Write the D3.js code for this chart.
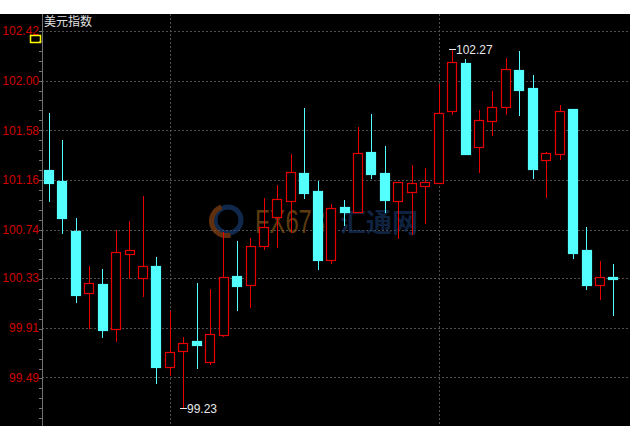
<!DOCTYPE html>
<html><head><meta charset="utf-8">
<script src="https://cdn.jsdelivr.net/npm/d3@7"></script>
<style>
html,body{margin:0;padding:0;background:#fff;}
svg{display:block;}
</style></head>
<body>
<svg id="chart" width="630" height="442"></svg>
<script>
// ---- data ----
const title = "美元指数";
const opens  = [101.24,101.15,100.73,100.20,100.28, 99.90,100.53,100.33,100.43, 99.58, 99.71, 99.80, 99.62, 99.85,100.35,100.27,100.60,100.85,100.98,101.22,101.07,100.48,100.93,100.89,101.40,101.22,100.98,101.06,101.11,101.13,101.74,102.15,101.44,101.66,101.78,102.09,101.94,101.33,101.38,101.76,100.57,100.27,100.34];
const highs  = [101.73,101.50,100.84,100.43,100.41,100.74,100.81,101.02,100.51,100.05, 99.83,100.29,100.24,100.72,100.64,100.67,101.01,101.12,101.38,101.77,101.15,100.96,100.99,101.61,101.72,101.45,101.14,101.29,101.26,101.97,102.27,102.18,101.75,101.91,102.19,102.25,102.05,101.40,101.79,101.76,100.76,100.47,100.45];
const lows   = [100.97,100.70,100.12, 99.90, 99.82, 99.79,100.32,100.17, 99.43, 99.50, 99.23, 99.56, 99.59, 99.83,100.05,100.08,100.57,100.58,100.71,101.00,100.40,100.45,100.77,100.88,101.17,100.88,100.66,100.69,100.79,101.13,101.71,101.38,101.22,101.53,101.71,101.70,101.17,101.01,101.33,100.49,100.23,100.14,100.01];
const closes = [101.13,100.84,100.19,100.29, 99.89,100.55,100.57,100.43, 99.58, 99.70, 99.78, 99.76, 99.86,100.34,100.26,100.60,100.76,101.00,101.23,101.05,100.48,100.92,100.89,101.39,101.21,100.99,101.14,101.13,101.14,101.73,102.16,101.38,101.67,101.78,102.10,101.92,101.25,101.39,101.74,100.54,100.27,100.34,100.32];
const tickValues = [102.42,102.00,101.58,101.16,100.74,100.33,99.91,99.49];
const tickLabels = ["102.42","102.00","101.58","101.16","100.74","100.33","99.91","99.49"];
const dividerIndex = [9, 29];   // session separators
const maxLabel = "102.27", minLabel = "99.23";

// ---- layout ----
const W = 630, H = 442;
const plot = {left: 42, right: 630, top: 14, bottom: 426};
const UP = "#e60000", DOWN = "#54ffff";

const svg = d3.select("#chart");
svg.append("rect").attr("x",0).attr("y",plot.top).attr("width",W).attr("height",plot.bottom-plot.top).attr("fill","#000");

const idx = opens.map((d,i)=>i);
const x = d3.scaleBand().domain(idx).range([42,620]).paddingInner(0.28).paddingOuter(0.14);
const y = d3.scaleLinear().domain([99.49,102.42]).range([377.3,31]);

// horizontal grid
const grid = svg.append("g");
grid.selectAll("line.h").data(tickValues).join("line")
  .attr("x1",plot.left).attr("x2",plot.right)
  .attr("y1",d=>Math.round(y(d))+0.5).attr("y2",d=>Math.round(y(d))+0.5)
  .attr("stroke","#505050").attr("stroke-dasharray","2,2");
// vertical separators
grid.selectAll("line.v").data(dividerIndex).join("line")
  .attr("x1",d=>Math.round(x(d)+x.bandwidth()/2)+0.5).attr("x2",d=>Math.round(x(d)+x.bandwidth()/2)+0.5)
  .attr("y1",plot.top).attr("y2",plot.bottom)
  .attr("stroke","#505050").attr("stroke-dasharray","2,2");

// watermark
const wm = svg.append("g").attr("opacity",0.55);
wm.append("circle").attr("cx",228).attr("cy",220).attr("r",13).attr("fill","none").attr("stroke","#1d4a8a").attr("stroke-width",5);
wm.append("path").attr("d",d3.arc()({innerRadius:12,outerRadius:17,startAngle:Math.PI*0.9,endAngle:Math.PI*1.9}))
  .attr("transform","translate(226,221)").attr("fill","#b0561a");
wm.append("text").attr("transform","translate(255,233) scale(0.7,1)")
  .attr("font-family","Liberation Sans, Arial, sans-serif").attr("font-size",34)
  .attr("fill","#a86a1c").text("FX678");
wm.append("text").attr("x",340).attr("y",232).attr("font-family","Noto Sans CJK SC, sans-serif").attr("font-size",26).attr("font-weight","bold")
  .attr("fill","#1d3f73").text("汇通网");

// y axis
const axis = svg.append("g");
axis.append("line").attr("x1",42.5).attr("x2",42.5).attr("y1",plot.top).attr("y2",plot.bottom).attr("stroke","#707070");
const minor = d3.range(0,50).map(k=>102.42 - k*0.084).filter(v=>y(v)<plot.bottom && y(v)>plot.top);
axis.selectAll("line.mt").data(minor).join("line")
  .attr("x1",39).attr("x2",42).attr("y1",d=>Math.round(y(d))+0.5).attr("y2",d=>Math.round(y(d))+0.5)
  .attr("stroke","#707070");
axis.selectAll("text").data(tickValues).join("text")
  .attr("x",39).attr("y",d=>y(d)).attr("dy","0.36em").attr("text-anchor","end")
  .attr("font-family","Liberation Sans, Arial, sans-serif").attr("font-size",12)
  .attr("fill","#d00000").text((d,i)=>tickLabels[i]);

// title & marker
svg.append("text").attr("x",44).attr("y",26).attr("font-family","Noto Sans CJK SC, sans-serif").attr("font-size",12)
  .attr("fill","#e0e0e0").text(title);
svg.append("rect").attr("x",30.5).attr("y",35.5).attr("width",10).attr("height",7)
  .attr("fill","none").attr("stroke","#ffff00").attr("stroke-width",1.5);

// candles
const cg = svg.append("g");
const bw = x.bandwidth();
idx.forEach(i=>{
  const up = closes[i] >= opens[i];
  const col = up ? UP : DOWN;
  const cx = Math.round(x(i)+bw/2)+0.5;
  const top = Math.round(y(Math.max(opens[i],closes[i])));
  const bot = Math.round(y(Math.min(opens[i],closes[i])));
  cg.append("line").attr("x1",cx).attr("x2",cx)
    .attr("y1",Math.round(y(highs[i]))).attr("y2",Math.round(y(lows[i])))
    .attr("stroke",col).attr("stroke-width",1);
  const bx = Math.round(x(i))+0.5, bwid = Math.round(bw)-1;
  cg.append("rect").attr("x",bx).attr("y",top+0.5).attr("width",bwid).attr("height",Math.max(1,bot-top))
    .attr("fill",up ? "#000" : DOWN).attr("stroke",col).attr("stroke-width",1.2);
});

// extreme labels
const iMax = highs.indexOf(d3.max(highs)), iMin = lows.indexOf(d3.min(lows));
[[iMax, highs[iMax], maxLabel],[iMin, lows[iMin], minLabel]].forEach(([i,v,lab])=>{
  const cx = Math.round(x(i)+bw/2);
  const yy = Math.round(y(v))+0.5;
  svg.append("line").attr("x1",cx-3).attr("x2",cx+4).attr("y1",yy).attr("y2",yy).attr("stroke","#e8e8e8");
  svg.append("text").attr("x",cx+4).attr("y",yy).attr("dy","0.36em")
    .attr("font-family","Liberation Sans, Arial, sans-serif").attr("font-size",12)
    .attr("fill","#e8e8e8").text(lab);
});
</script>
</body></html>
